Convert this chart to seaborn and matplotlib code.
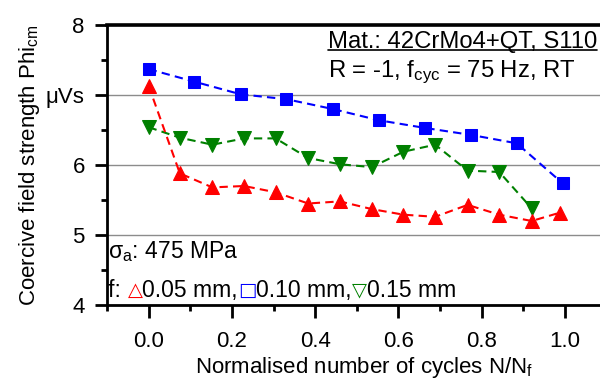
import numpy as np
import pandas as pd
import seaborn as sns
import matplotlib.pyplot as plt
from matplotlib.lines import Line2D
from matplotlib.ticker import MultipleLocator, FixedLocator


# Data
x_005 = [0.0, 0.075, 0.153, 0.229, 0.305, 0.383, 0.459, 0.536, 0.612, 0.688, 0.766, 0.842, 0.92, 0.988]
y_005 = [7.13, 5.88, 5.68, 5.70, 5.61, 5.45, 5.48, 5.37, 5.29, 5.26, 5.43, 5.29, 5.20, 5.32]

x_010 = [0.0, 0.11, 0.221, 0.331, 0.442, 0.552, 0.663, 0.774, 0.884, 0.994]
y_010 = [7.37, 7.19, 7.01, 6.94, 6.80, 6.64, 6.53, 6.43, 6.31, 5.74]

x_015 = [0.0, 0.075, 0.153, 0.229, 0.305, 0.383, 0.46, 0.536, 0.612, 0.688, 0.766, 0.842, 0.92]
y_015 = [6.54, 6.39, 6.29, 6.38, 6.38, 6.10, 6.01, 5.97, 6.19, 6.29, 5.92, 5.90, 5.38]

ytick_vals = [4, 5, 6, 7, 8]
ytick_text = ['4', '5', '6', '\u03bcVs', '8']
xtick_vals = [0.0, 0.2, 0.4, 0.6, 0.8, 1.0]

series = [
    ('0.10 mm', x_010, y_010, '#0000ff', 's', 8.0),
    ('0.15 mm', x_015, y_015, '#008000', 'v', 9.5),
    ('0.05 mm', x_005, y_005, '#ff0000', '^', 9.5),
]

sns.set_theme(style='ticks')
plt.rcParams['font.family'] = ['Liberation Sans', 'DejaVu Sans']
plt.rcParams['mathtext.fontset'] = 'custom'
plt.rcParams['mathtext.rm'] = 'Liberation Sans'
plt.rcParams['mathtext.it'] = 'Liberation Sans:italic'

fig = plt.figure(figsize=(6, 3.81), dpi=100)
ax = fig.add_axes([107 / 600, 76 / 381, 499.7 / 600, 280 / 381])

for name, xs, ys, col, mk, ms in series:
    df = pd.DataFrame({'x': xs, 'y': ys})
    sns.lineplot(data=df, x='x', y='y', ax=ax, color=col, marker=mk,
                 markersize=ms, markeredgecolor=col, linewidth=1.5,
                 linestyle=(0, (4, 2.5)), legend=False)

ax.set_xlim(-0.1, 1.1)
ax.set_ylim(4, 8)
ax.set_xticks(xtick_vals)
ax.set_xticklabels([f'{v:.1f}' for v in xtick_vals])
ax.xaxis.set_minor_locator(MultipleLocator(0.2, offset=0.1))
ax.set_yticks(ytick_vals)
ax.set_yticklabels(ytick_text)
ax.yaxis.set_minor_locator(FixedLocator([4.5, 5.5, 6.5, 7.5]))

ax.grid(axis='y', color='#8c8c8c', linewidth=1.0)
ax.grid(axis='x', visible=False)

for side in ['left', 'top', 'bottom', 'right']:
    ax.spines[side].set_color('black')
    ax.spines[side].set_linewidth(2)
ax.spines['top'].set_linewidth(2.6)

ax.tick_params(axis='both', which='major', direction='out', length=9, width=2,
               color='black', labelsize=16, labelcolor='black')
ax.tick_params(axis='x', which='major', pad=10)
ax.tick_params(axis='y', which='major', pad=7)
ax.tick_params(axis='both', which='minor', direction='out', length=4.5, width=2, color='black')

ax.set_xlabel('Normalised number of cycles N/N$_\\mathrm{f}$', fontsize=16, color='black')
ax.set_ylabel('Coercive field strength Phi$_\\mathrm{cm}$', fontsize=16, color='black')
ax.xaxis.set_label_coords(0.514, -0.18)
ax.yaxis.set_label_coords(-0.13, 0.5)

# annotations
ax.text(0.43, 7.76, 'Mat.: 42CrMo4+QT, S110', fontsize=17.2, va='center', ha='left', color='black')
ax.text(0.43, 7.33, 'R = -1, f$_\\mathrm{cyc}$ = 75 Hz, RT', fontsize=17.2, va='center', ha='left', color='black')
ax.text(-0.097, 4.76, '\u03c3$_\\mathrm{a}$: 475 MPa', fontsize=16.5, va='center', ha='left', color='black')

prev = ax.text(-0.097, 4.21, 'f: ', fontsize=16.5, va='center', ha='left', color='black')
pieces = [('\u25b3', '#ff0000'), ('0.05 mm,', 'black'), ('\u25a1', '#0000ff'),
          ('0.10 mm,', 'black'), ('\u25bd', '#008000'), ('0.15 mm', 'black')]
for txt, col in pieces:
    kw = dict(fontsize=16.5)
    if col != 'black':
        kw = dict(family='DejaVu Sans', fontweight='bold', fontsize=14)
    prev = ax.annotate(txt, xy=(1, 0.5), xycoords=prev, va='center', ha='left',
                       color=col, **kw)

# underline the material line
fig.canvas.draw()
for t in ax.texts:
    if t.get_text().startswith('Mat.'):
        bb = t.get_window_extent().transformed(fig.transFigure.inverted())
        fig.add_artist(Line2D([bb.x0, bb.x1], [bb.y0 + 0.008, bb.y0 + 0.008],
                              color='black', linewidth=1.2))

fig.savefig('out.png', dpi=100)
